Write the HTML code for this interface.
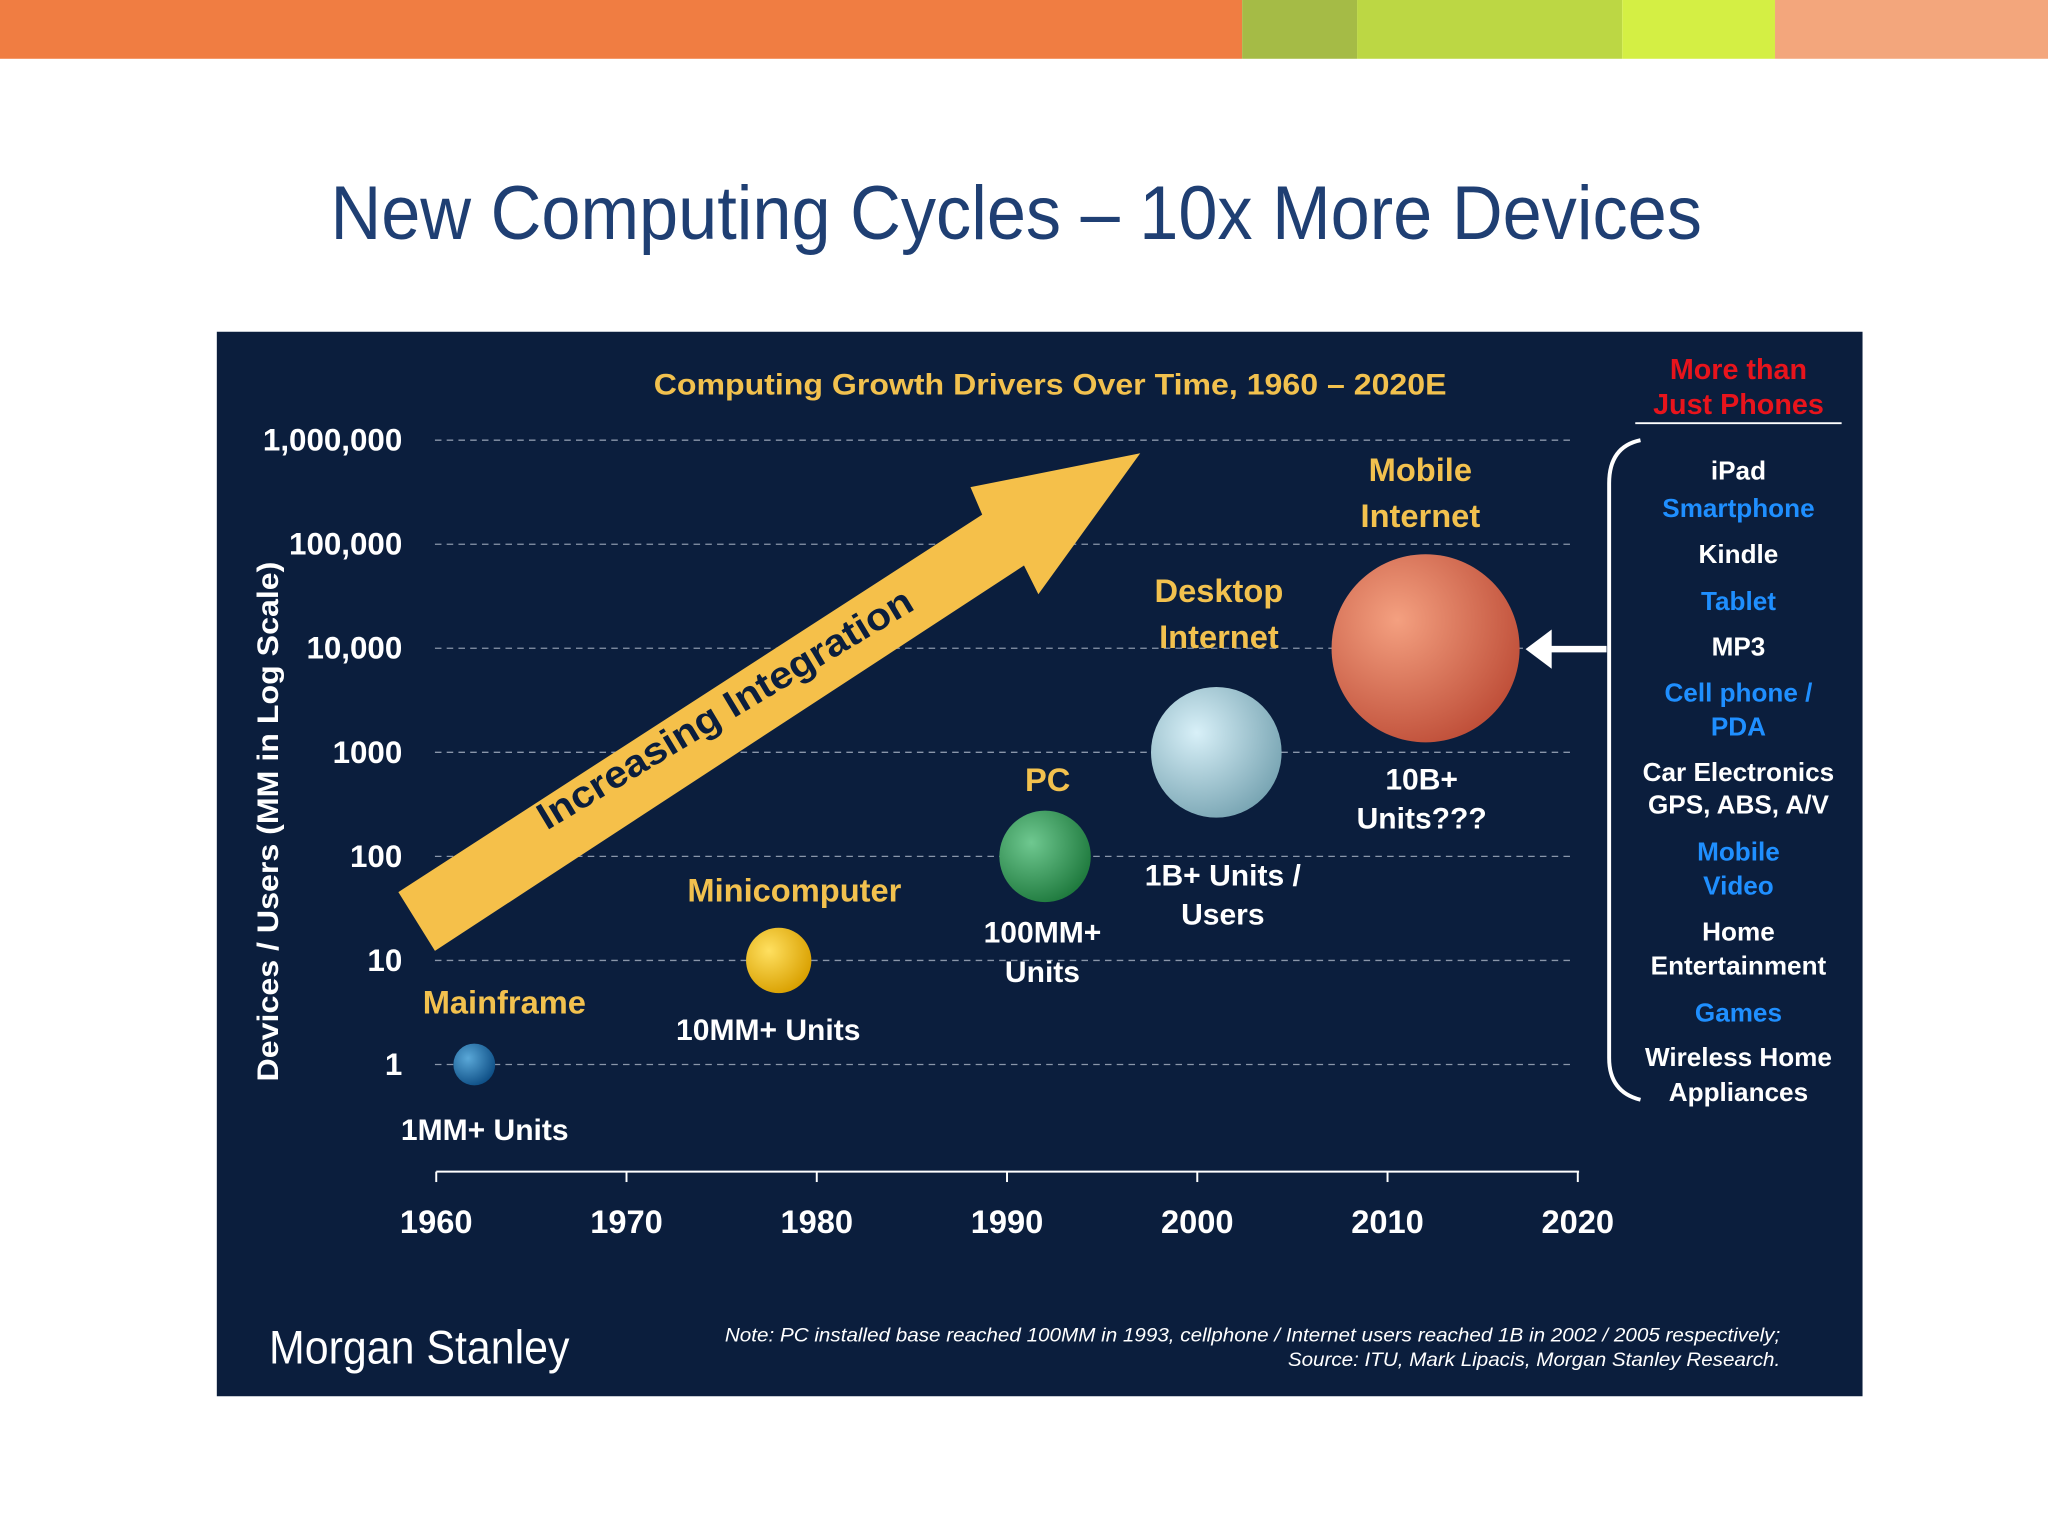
<!DOCTYPE html>
<html><head><meta charset="utf-8"><style>
html,body{margin:0;padding:0;background:#fff}
svg{display:block}
text{font-family:"Liberation Sans",sans-serif}
</style></head><body>
<svg width="2048" height="1536" viewBox="0 0 1568 1176">
<defs>
<radialGradient id="gB" cx="35%" cy="35%" r="70%"><stop offset="0" stop-color="#5aa8d8"/><stop offset="1" stop-color="#0e4f86"/></radialGradient>
<radialGradient id="gY" cx="35%" cy="35%" r="70%"><stop offset="0" stop-color="#ffe060"/><stop offset="1" stop-color="#d9a000"/></radialGradient>
<radialGradient id="gG" cx="35%" cy="35%" r="70%"><stop offset="0" stop-color="#6fc890"/><stop offset="1" stop-color="#1f7a3e"/></radialGradient>
<radialGradient id="gL" cx="35%" cy="35%" r="70%"><stop offset="0" stop-color="#d8f0f8"/><stop offset="1" stop-color="#7aa6b4"/></radialGradient>
<radialGradient id="gR" cx="35%" cy="35%" r="70%"><stop offset="0" stop-color="#f4a080"/><stop offset="1" stop-color="#c0503a"/></radialGradient>
</defs>
<g>
<rect x="0" y="0" width="951" height="45" fill="#f07d42"/>
<rect x="951" y="0" width="88" height="45" fill="#a5bb46"/>
<rect x="1039" y="0" width="203" height="45" fill="#bcd744"/>
<rect x="1242" y="0" width="117" height="45" fill="#d4ef44"/>
<rect x="1359" y="0" width="209" height="45" fill="#f3a67c"/>
</g>
<text x="778" y="183" text-anchor="middle" font-size="58" fill="#1f3f73" textLength="1050" lengthAdjust="spacingAndGlyphs">New Computing Cycles – 10x More Devices</text>
<rect x="166" y="254" width="1260" height="815" fill="#0b1e3d"/>
<text x="804" y="302" text-anchor="middle" font-size="23" font-weight="bold" fill="#f2c14e" textLength="607" lengthAdjust="spacingAndGlyphs">Computing Growth Drivers Over Time, 1960 – 2020E</text>
<text transform="translate(213,629) rotate(-90)" text-anchor="middle" font-size="23" font-weight="bold" fill="#fff" textLength="398" lengthAdjust="spacingAndGlyphs">Devices / Users (MM in Log Scale)</text>
<g id="grid"></g>
<g id="xaxis"></g>
<polygon points="305,683 752,394 743,373 873,347 795,455 784,433 333,728" fill="#f5c04a"/>
<text transform="translate(560,551) rotate(-31)" text-anchor="middle" font-size="29" font-weight="bold" fill="#0b1e3d" textLength="330" lengthAdjust="spacingAndGlyphs">Increasing Integration</text>
<g id="bubbles"></g>
<g>
<text x="1331" y="290" text-anchor="middle" font-size="22" font-weight="bold" fill="#e8141c">More than</text>
<text x="1331" y="317" text-anchor="middle" font-size="22" font-weight="bold" fill="#e8141c">Just Phones</text>
<line x1="1252" y1="324" x2="1410" y2="324" stroke="#fff" stroke-width="1.5"/>
<path d="M1256,337 Q1232,342 1232,370 L1232,810 Q1232,836 1256,842" fill="none" stroke="#fff" stroke-width="3"/>
<line x1="1230" y1="497" x2="1186" y2="497" stroke="#fff" stroke-width="5"/>
<polygon points="1168,497 1188,482 1188,512" fill="#fff"/>
<g font-size="20" font-weight="bold" text-anchor="middle">
<text x="1331" y="367" fill="#fff">iPad</text>
<text x="1331" y="396" fill="#1f8fff">Smartphone</text>
<text x="1331" y="431" fill="#fff">Kindle</text>
<text x="1331" y="467" fill="#1f8fff">Tablet</text>
<text x="1331" y="502" fill="#fff">MP3</text>
<text x="1331" y="537" fill="#1f8fff">Cell phone /</text>
<text x="1331" y="563" fill="#1f8fff">PDA</text>
<text x="1331" y="598" fill="#fff">Car Electronics</text>
<text x="1331" y="623" fill="#fff">GPS, ABS, A/V</text>
<text x="1331" y="659" fill="#1f8fff">Mobile</text>
<text x="1331" y="685" fill="#1f8fff">Video</text>
<text x="1331" y="720" fill="#fff">Home</text>
<text x="1331" y="746" fill="#fff">Entertainment</text>
<text x="1331" y="782" fill="#1f8fff">Games</text>
<text x="1331" y="816" fill="#fff">Wireless Home</text>
<text x="1331" y="843" fill="#fff">Appliances</text>
</g></g>
<text x="206" y="1044" font-size="36" fill="#fff" textLength="230" lengthAdjust="spacingAndGlyphs">Morgan Stanley</text>
<g font-size="15" font-style="italic" fill="#fff" text-anchor="end">
<text x="1363" y="1027" textLength="808" lengthAdjust="spacingAndGlyphs">Note: PC installed base reached 100MM in 1993, cellphone / Internet users reached 1B in 2002 / 2005 respectively;</text>
<text x="1363" y="1046" textLength="377" lengthAdjust="spacingAndGlyphs">Source: ITU, Mark Lipacis, Morgan Stanley Research.</text>
</g>
<script>
const yTicks=[1,10,100,1000,10000,100000,1000000];
const yTickLabels=["1","10","100","1000","10,000","100,000","1,000,000"];
const xTicks=[1960,1970,1980,1990,2000,2010,2020];
const names=["Mainframe","Minicomputer","PC","Desktop Internet","Mobile Internet"];
const years=[1962,1978,1992,2001,2012];
const units=[1,10,100,1000,10000];
const radii=[16,25,35,50,72];
const fills=["url(#gB)","url(#gY)","url(#gG)","url(#gL)","url(#gR)"];
const NS="http://www.w3.org/2000/svg";
const xS=y=>334+(y-1960)*(1208-334)/60;
const yS=v=>815-Math.log10(v)*(815-337)/6;
function mk(t,a,p,txt){const e=document.createElementNS(NS,t);for(const k in a)e.setAttribute(k,a[k]);if(txt!==undefined)e.textContent=txt;p.appendChild(e);return e;}
const grid=document.getElementById('grid');
yTicks.forEach((v,i)=>{
 const l=mk('line',{x1:333,x2:1205,y1:yS(v),y2:yS(v),stroke:'#8a96aa','stroke-width':1,'stroke-dasharray':'5,4'},grid);
 
 
 const t=mk('text',{x:308,y:yS(v)+8,'text-anchor':'end','font-size':24,'font-weight':'bold',fill:'#fff'},grid,yTickLabels[i]);
 
 
});
const xa=document.getElementById('xaxis');
const ax=mk('line',{x1:334,x2:1209,y1:897,y2:897,stroke:'#fff','stroke-width':1.5},xa);


xTicks.forEach(y=>{
 const tk=mk('line',{x1:xS(y),x2:xS(y),y1:897,y2:905,stroke:'#fff','stroke-width':1.5},xa);
 
 
 const t=mk('text',{x:xS(y),y:944,'text-anchor':'middle','font-size':25,'font-weight':'bold',fill:'#fff'},xa,String(y));
 
 
});
const bg=document.getElementById('bubbles');
const labels=[[["Mainframe"],23,-39],[["Minicomputer"],12,-45],[["PC"],2,-50],[["Desktop","Internet"],2,-115],[["Mobile","Internet"],-4,-128]];
const valLabels=[[["1MM+ Units"],8,58],[["10MM+ Units"],-8,61],[["100MM+","Units"],-2,66],[["1B+ Units /","Users"],5,102],[["10B+","Units???"],-3,108]];
years.forEach((yr,i)=>{
 const cx=xS(yr),cy=yS(units[i]);
 const c=mk('circle',{cx:cx,cy:cy,r:radii[i],fill:fills[i]},bg);
 
 
 const [ln,dx,dy]=labels[i];
 ln.forEach((s,j)=>{const t=mk('text',{x:cx+dx,y:cy+dy+j*35,'text-anchor':'middle','font-size':25,'font-weight':'bold',fill:'#f2c14e'},bg,s);
 
 });
 const [vl,vx,vy]=valLabels[i];
 vl.forEach((s,j)=>{const t=mk('text',{x:cx+vx,y:cy+vy+j*30,'text-anchor':'middle','font-size':23,'font-weight':'bold',fill:'#fff'},bg,s);
 
 });
});
</script>
</svg>
</body></html>
